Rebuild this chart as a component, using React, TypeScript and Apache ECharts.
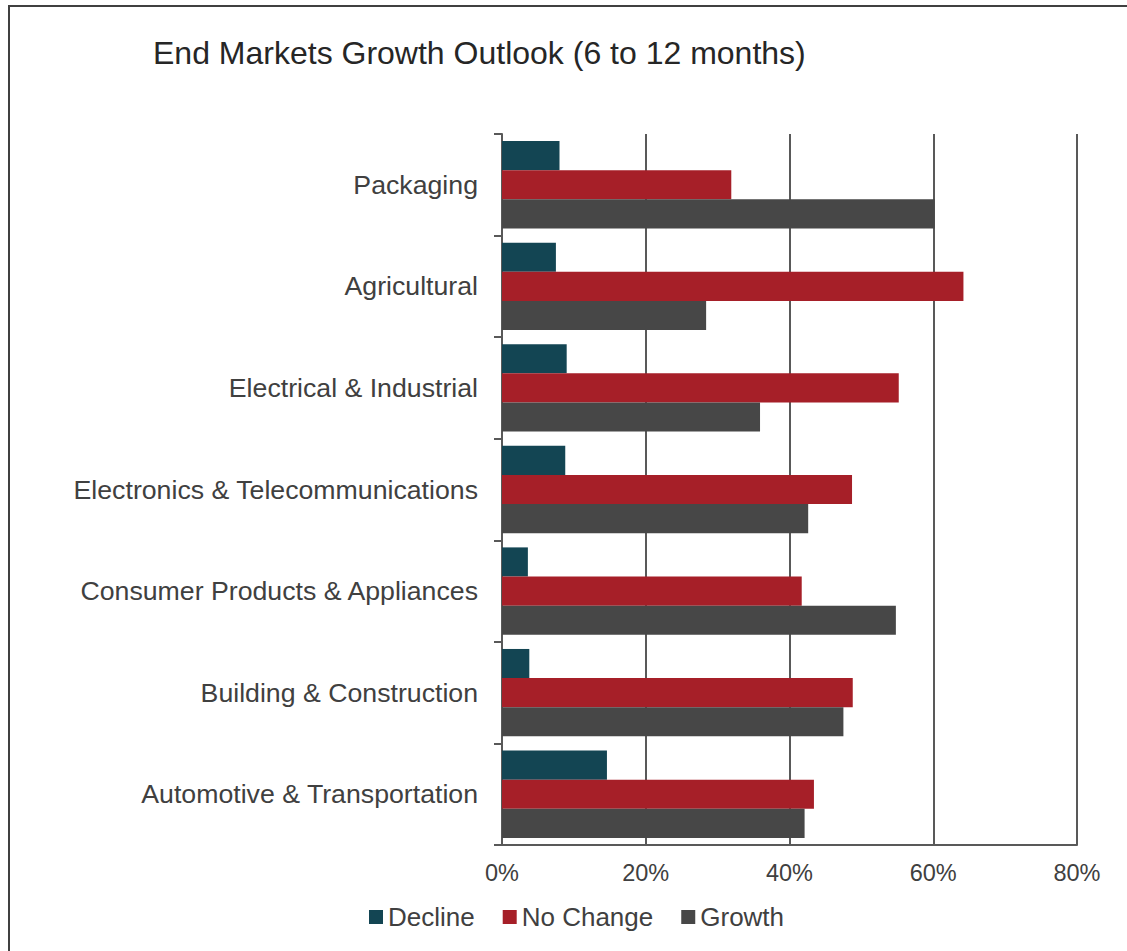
import React, { useEffect, useRef } from "react";
import * as echarts from "echarts";

const categories = [
  "Packaging",
  "Agricultural",
  "Electrical & Industrial",
  "Electronics & Telecommunications",
  "Consumer Products & Appliances",
  "Building & Construction",
  "Automotive & Transportation",
];
const declineValues = [0.08, 0.075, 0.09, 0.088, 0.036, 0.038, 0.146];
const noChangeValues = [0.319, 0.642, 0.552, 0.487, 0.417, 0.488, 0.434];
const growthValues = [0.602, 0.284, 0.359, 0.426, 0.548, 0.475, 0.421];
const xTicks = [0, 0.2, 0.4, 0.6, 0.8];

const FONT = "'Liberation Sans', Arial, sans-serif";

export default function App() {
  const ref = useRef<HTMLDivElement>(null);
  useEffect(() => {
    if (!ref.current) return;
    const chart = echarts.init(ref.current, undefined, { renderer: "svg" });
    chart.setOption({
      animation: false,
      backgroundColor: "#ffffff",
      textStyle: { fontFamily: FONT },
      title: {
        text: "End Markets Growth Outlook (6 to 12 months)",
        left: 148,
        top: 32,
        textStyle: { fontFamily: FONT, fontSize: 32, fontWeight: "normal", color: "#262626" },
      },
      graphic: [
        {
          type: "rect",
          shape: { x: 9, y: 6, width: 1300, height: 1100 },
          style: { fill: "none", stroke: "#404040", lineWidth: 2 },
          silent: true,
        },
      ],
      legend: {
        left: 364,
        top: 899,
        icon: "rect",
        itemWidth: 14,
        itemHeight: 14,
        itemGap: 28,
        textStyle: { fontFamily: FONT, fontSize: 26, color: "#404040" },
        data: ["Decline", "No Change", "Growth"],
      },
      grid: { left: 502, top: 134, width: 575, height: 711 },
      xAxis: {
        type: "value",
        min: xTicks[0],
        max: xTicks[xTicks.length - 1],
        interval: 0.2,
        axisLine: { show: true, lineStyle: { color: "#595959", width: 2 } },
        axisTick: { show: false },
        splitLine: { show: true, lineStyle: { color: "#595959", width: 2 } },
        axisLabel: {
          margin: 16,
          fontFamily: FONT,
          fontSize: 23.5,
          color: "#404040",
          formatter: (v: number) => `${Math.round(v * 100)}%`,
        },
      },
      yAxis: {
        type: "category",
        inverse: true,
        data: categories,
        axisLine: { show: true, lineStyle: { color: "#595959", width: 2 } },
        axisTick: { show: true, length: 8, lineStyle: { color: "#595959", width: 2 } },
        axisLabel: { margin: 24, fontFamily: FONT, fontSize: 26.7, color: "#404040" },
      },
      series: [
        {
          name: "Decline",
          type: "bar",
          data: declineValues,
          barGap: "0%",
          barCategoryGap: "14%",
          itemStyle: { color: "#134553" },
        },
        {
          name: "No Change",
          type: "bar",
          data: noChangeValues,
          barGap: "0%",
          barCategoryGap: "14%",
          itemStyle: { color: "#A61F28" },
        },
        {
          name: "Growth",
          type: "bar",
          data: growthValues,
          barGap: "0%",
          barCategoryGap: "14%",
          itemStyle: { color: "#474747" },
        },
      ],
    });
    return () => chart.dispose();
  }, []);
  return (
    <div
      ref={ref}
      style={{ position: "absolute", left: 0, top: 0, width: 1127, height: 951 }}
    />
  );
}
